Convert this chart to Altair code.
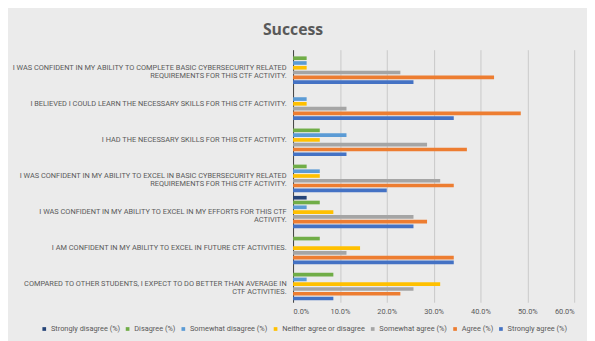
import altair as alt
import pandas as pd

questions = [
    "I WAS CONFIDENT IN MY ABILITY TO COMPLETE BASIC CYBERSECURITY RELATED\nREQUIREMENTS FOR THIS CTF ACTIVITY.",
    "I BELIEVED I COULD LEARN THE NECESSARY SKILLS FOR THIS CTF ACTIVITY.",
    "I HAD THE NECESSARY SKILLS FOR THIS CTF ACTIVITY.",
    "I WAS CONFIDENT IN MY ABILITY TO EXCEL IN BASIC CYBERSECURITY RELATED\nREQUIREMENTS FOR THIS CTF ACTIVITY.",
    "I WAS CONFIDENT IN MY ABILITY TO EXCEL IN MY EFFORTS FOR THIS CTF\nACTIVITY.",
    "I AM CONFIDENT IN MY ABILITY TO EXCEL IN FUTURE CTF ACTIVITIES.",
    "COMPARED TO OTHER STUDENTS, I EXPECT TO DO BETTER THAN AVERAGE IN\nCTF ACTIVITIES.",
]

series = [
    "Strongly disagree (%)",
    "Disagree (%)",
    "Somewhat disagree (%)",
    "Neither agree or disagree",
    "Somewhat agree (%)",
    "Agree (%)",
    "Strongly agree (%)",
]

colors = ["#264478", "#70AD47", "#5B9BD5", "#FFC000", "#A5A5A5", "#ED7D31", "#4472C4"]

# values in percent, one list per series, in question order
strongly_disagree = [0.0, 0.0, 0.0, 0.0, 2.9, 0.0, 0.0]
disagree = [2.9, 0.0, 5.7, 2.9, 5.7, 5.7, 8.6]
somewhat_disagree = [2.9, 2.9, 11.4, 5.7, 2.9, 0.0, 2.9]
neither = [2.9, 2.9, 5.7, 5.7, 8.6, 14.3, 31.4]
somewhat_agree = [22.9, 11.4, 28.6, 31.4, 25.7, 11.4, 25.7]
agree = [42.9, 48.6, 37.1, 34.3, 28.6, 34.3, 22.9]
strongly_agree = [25.7, 34.3, 11.4, 20.0, 25.7, 34.3, 8.6]

all_values = [strongly_disagree, disagree, somewhat_disagree, neither,
              somewhat_agree, agree, strongly_agree]

rows = []
for s, vals in zip(series, all_values):
    for q, v in zip(questions, vals):
        rows.append({"question": q, "series": s, "value": v / 100.0})
df = pd.DataFrame(rows)

FONT = "Roboto, sans-serif"
GRAY = "#595959"

chart = alt.Chart(df).mark_bar(size=3.7).encode(
    y=alt.Y("question:N", sort=questions,
            scale=alt.Scale(paddingInner=0.1, paddingOuter=0.05),
            axis=alt.Axis(title=None, labelExpr="split(datum.label, '\\n')",
                          labelLimit=400, labelFontSize=7.5, labelColor=GRAY,
                          labelFont=FONT, labelLineHeight=8, labelPadding=7,
                          ticks=False, domainColor="#404040", domainWidth=1)),
    yOffset=alt.YOffset("series:N", sort=series,
                        scale=alt.Scale(paddingInner=0.2)),
    x=alt.X("value:Q", scale=alt.Scale(domain=[0, 0.6], nice=False),
            axis=alt.Axis(title=None, format=".1%", values=[0, 0.1, 0.2, 0.3, 0.4, 0.5, 0.6],
                          labelFontSize=7.5, labelColor=GRAY, labelFont=FONT,
                          ticks=False, domain=False, gridColor="#c8c8c8",
                          labelPadding=5)),
    color=alt.Color("series:N", sort=series,
                    scale=alt.Scale(domain=series, range=colors),
                    legend=alt.Legend(title=None, orient="none", direction="horizontal",
                                      legendX=-256, legendY=279,
                                      symbolType="square", symbolSize=14,
                                      symbolStrokeWidth=0,
                                      labelFontSize=7.5, labelColor=GRAY, labelFont=FONT,
                                      columnPadding=3.5, labelOffset=3, labelLimit=300)),
).properties(
    width=285,
    height=256,
    title=alt.TitleParams("Success", fontSize=16, fontWeight="bold", color=GRAY,
                          font="Open Sans", anchor="middle", frame="group",
                          dx=-142.5, offset=12),
    autosize=alt.AutoSizeParams(type="none"),
    padding={"left": 289, "top": 40, "right": 13, "bottom": 37},
).configure(
    background="#ebebeb",
).configure_view(stroke=None)

chart.save("out.html", embed_options={"renderer": "svg", "actions": False})
